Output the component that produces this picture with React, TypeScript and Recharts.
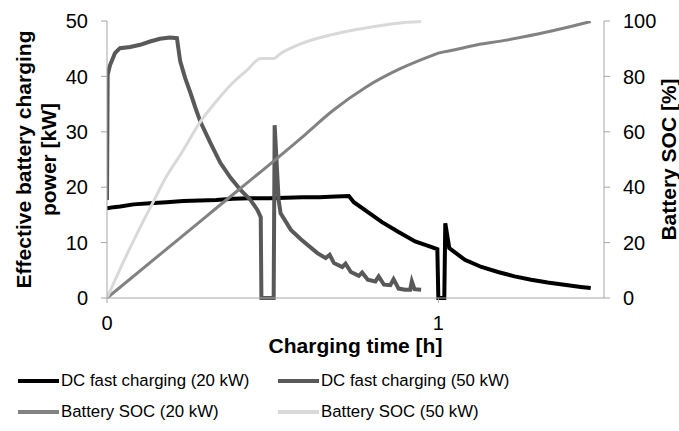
import { LineChart, Line, XAxis, YAxis, Legend } from 'recharts';

// DC fast charging (20 kW) – effective power [kW] over time [h]
const dc20Time = [
  0, 0.02, 0.04, 0.08, 0.13, 0.18, 0.23, 0.28, 0.33, 0.38, 0.43, 0.49, 0.54, 0.59, 0.64, 0.69,
  0.73, 0.745, 0.78, 0.83, 0.88, 0.93, 0.98, 0.997, 1.0, 1.018, 1.021, 1.033, 1.08, 1.13, 1.18,
  1.23, 1.28, 1.33, 1.38, 1.43, 1.46,
];
const dc20Power = [
  16.2, 16.4, 16.5, 16.9, 17.1, 17.3, 17.5, 17.6, 17.7, 17.9, 18.0, 18.0, 18.1, 18.2, 18.2, 18.3,
  18.4, 17.3, 15.8, 13.7, 11.9, 10.2, 9.2, 8.8, 0, 0, 13.5, 9.0, 6.9, 5.6, 4.7,
  3.9, 3.3, 2.8, 2.4, 2.0, 1.8,
];

// DC fast charging (50 kW)
const dc50Time = [
  0, 0.002, 0.009, 0.024, 0.039, 0.07, 0.1, 0.13, 0.16, 0.19, 0.211, 0.221, 0.236, 0.252, 0.267,
  0.282, 0.312, 0.342, 0.373, 0.403, 0.433, 0.454, 0.464, 0.466, 0.503, 0.506, 0.518, 0.524, 0.555,
  0.585, 0.635, 0.66, 0.672, 0.685, 0.71, 0.72, 0.736, 0.76, 0.77, 0.787, 0.81, 0.82, 0.836, 0.855,
  0.865, 0.88, 0.9, 0.915, 0.92, 0.928, 0.948,
];
const dc50Power = [
  17.7, 40.3, 42.0, 44.2, 45.1, 45.3, 45.7, 46.3, 46.8, 47.0, 46.9, 42.7, 39.7, 37.0, 34.3,
  31.8, 28.0, 24.4, 21.7, 19.5, 17.7, 15.9, 14.6, 0, 0, 31.2, 17.7, 15.3, 12.3,
  10.6, 8.1, 7.2, 7.8, 6.3, 5.6, 6.2, 4.7, 4.0, 4.6, 3.3, 3.0, 3.9, 2.4, 2.3,
  3.4, 1.7, 1.5, 1.5, 3.0, 1.6, 1.5,
];

// Battery SOC (20 kW) [%]
const soc20Time = [0, 0.3, 0.6, 0.68, 0.78, 0.88, 0.98, 1.0, 1.05, 1.1, 1.2, 1.3, 1.4, 1.46];
const soc20Value = [0, 29.5, 59.2, 67.5, 76, 82.5, 87.5, 88.4, 89.6, 91, 93, 95.3, 98, 99.8];

// Battery SOC (50 kW) [%]
const soc50Time = [
  0, 0.052, 0.1, 0.14, 0.18, 0.223, 0.284, 0.33, 0.373, 0.423, 0.464, 0.504, 0.524, 0.575, 0.676,
  0.776, 0.878, 0.948,
];
const soc50Value = [
  0, 13.7, 25.5, 34.8, 44, 52, 64, 71, 76.9, 82.3, 86.5, 86.5, 88.3, 91.3, 95,
  97.4, 99.2, 99.8,
];

const seriesNames = [
  'DC fast charging (20 kW)',
  'DC fast charging (50 kW)',
  'Battery SOC (20 kW)',
  'Battery SOC (50 kW)',
];

const xTicks = [0, 1];
const powerTicks = [0, 10, 20, 30, 40, 50];
const socTicks = [0, 20, 40, 60, 80, 100];

const FONT = '"Liberation Sans", Arial, sans-serif';
const AXIS_GREY = '#a6a6a6';
const COLORS = ['#000000', '#595959', '#828282', '#d9d9d9'];

const toPoints = (times: number[], values: number[]) =>
  times.map((t, i) => ({ t, v: values[i] }));

const dc20Data = toPoints(dc20Time, dc20Power);
const dc50Data = toPoints(dc50Time, dc50Power);
const soc20Data = toPoints(soc20Time, soc20Value);
const soc50Data = toPoints(soc50Time, soc50Value);

const tickStyle = { fill: '#000', fontSize: 20, fontFamily: FONT };

function LeftTitle(props: any) {
  const { viewBox } = props;
  const cy = viewBox.y + viewBox.height / 2;
  return (
    <text
      transform={`translate(0, ${cy}) rotate(-90)`}
      textAnchor="middle"
      fontFamily={FONT}
      fontWeight="bold"
      fontSize={21}
      fill="#000"
    >
      <tspan x={0} y={31}>Effective battery charging</tspan>
      <tspan x={0} y={55.5}>power [kW]</tspan>
    </text>
  );
}

function RightTitle(props: any) {
  const { viewBox } = props;
  const cy = viewBox.y + viewBox.height / 2;
  return (
    <text
      transform={`translate(${viewBox.x + 72}, ${cy}) rotate(-90)`}
      textAnchor="middle"
      fontFamily={FONT}
      fontWeight="bold"
      fontSize={21}
      fill="#000"
    >
      Battery SOC [%]
    </text>
  );
}

function BottomTitle(props: any) {
  const { viewBox } = props;
  return (
    <text
      x={viewBox.x + viewBox.width / 2}
      y={viewBox.y + 55}
      textAnchor="middle"
      fontFamily={FONT}
      fontWeight="bold"
      fontSize={21}
      fill="#000"
    >
      Charging time [h]
    </text>
  );
}

// 2 x 2 legend grid, in series order (Recharts would sort by name otherwise)
function LegendGrid(props: any) {
  const payload = props.payload || [];
  const items = seriesNames
    .map((name) => payload.find((p: any) => p.value === name))
    .filter(Boolean);
  const cols = [18, 278];
  const rows = [23, 54];
  return (
    <div style={{ position: 'relative', height: 73, width: 679, fontFamily: FONT }}>
      {items.map((item: any, i: number) => (
        <div
          key={item.value}
          style={{
            position: 'absolute',
            left: cols[i % 2],
            top: rows[Math.floor(i / 2)] - 12,
            height: 24,
            display: 'flex',
            alignItems: 'center',
            whiteSpace: 'nowrap',
          }}
        >
          <span style={{ display: 'inline-block', width: 41, height: 4, background: item.color }} />
          <span style={{ marginLeft: 2, fontSize: 16.8, color: '#000' }}>{item.value}</span>
        </div>
      ))}
    </div>
  );
}

export default function App() {
  return (
    <div style={{ position: 'absolute', left: 0, top: 0, background: '#fff' }}>
      <LineChart width={679} height={431} margin={{ top: 21, right: 0, bottom: 0, left: 0 }}>
        <XAxis
          type="number"
          dataKey="t"
          domain={[0, 1.5]}
          ticks={xTicks}
          allowDataOverflow
          height={60}
          tick={tickStyle}
          tickSize={5}
          tickMargin={13}
          stroke={AXIS_GREY}
          axisLine={{ stroke: AXIS_GREY }}
          tickLine={{ stroke: AXIS_GREY }}
          label={<BottomTitle />}
        />
        <YAxis
          yAxisId="left"
          domain={[0, 50]}
          ticks={powerTicks}
          width={107}
          tick={tickStyle}
          tickSize={6}
          tickMargin={13}
          axisLine={{ stroke: AXIS_GREY }}
          tickLine={{ stroke: AXIS_GREY }}
          label={<LeftTitle />}
        />
        <YAxis
          yAxisId="right"
          orientation="right"
          domain={[0, 100]}
          ticks={socTicks}
          width={75}
          tick={tickStyle}
          tickSize={6}
          tickMargin={13}
          axisLine={{ stroke: AXIS_GREY }}
          tickLine={{ stroke: AXIS_GREY }}
          label={<RightTitle />}
        />
        <Legend verticalAlign="bottom" content={<LegendGrid />} wrapperStyle={{ height: 73 }} />
        <Line
          yAxisId="left"
          data={dc20Data}
          dataKey="v"
          name={seriesNames[0]}
          type="linear"
          stroke={COLORS[0]}
          strokeWidth={4}
          dot={false}
          isAnimationActive={false}
        />
        <Line
          yAxisId="left"
          data={dc50Data}
          dataKey="v"
          name={seriesNames[1]}
          type="linear"
          stroke={COLORS[1]}
          strokeWidth={4}
          dot={false}
          isAnimationActive={false}
        />
        <Line
          yAxisId="right"
          data={soc20Data}
          dataKey="v"
          name={seriesNames[2]}
          type="monotone"
          stroke={COLORS[2]}
          strokeWidth={3}
          dot={false}
          isAnimationActive={false}
        />
        <Line
          yAxisId="right"
          data={soc50Data}
          dataKey="v"
          name={seriesNames[3]}
          type="monotone"
          stroke={COLORS[3]}
          strokeWidth={3}
          dot={false}
          isAnimationActive={false}
        />
      </LineChart>
    </div>
  );
}
